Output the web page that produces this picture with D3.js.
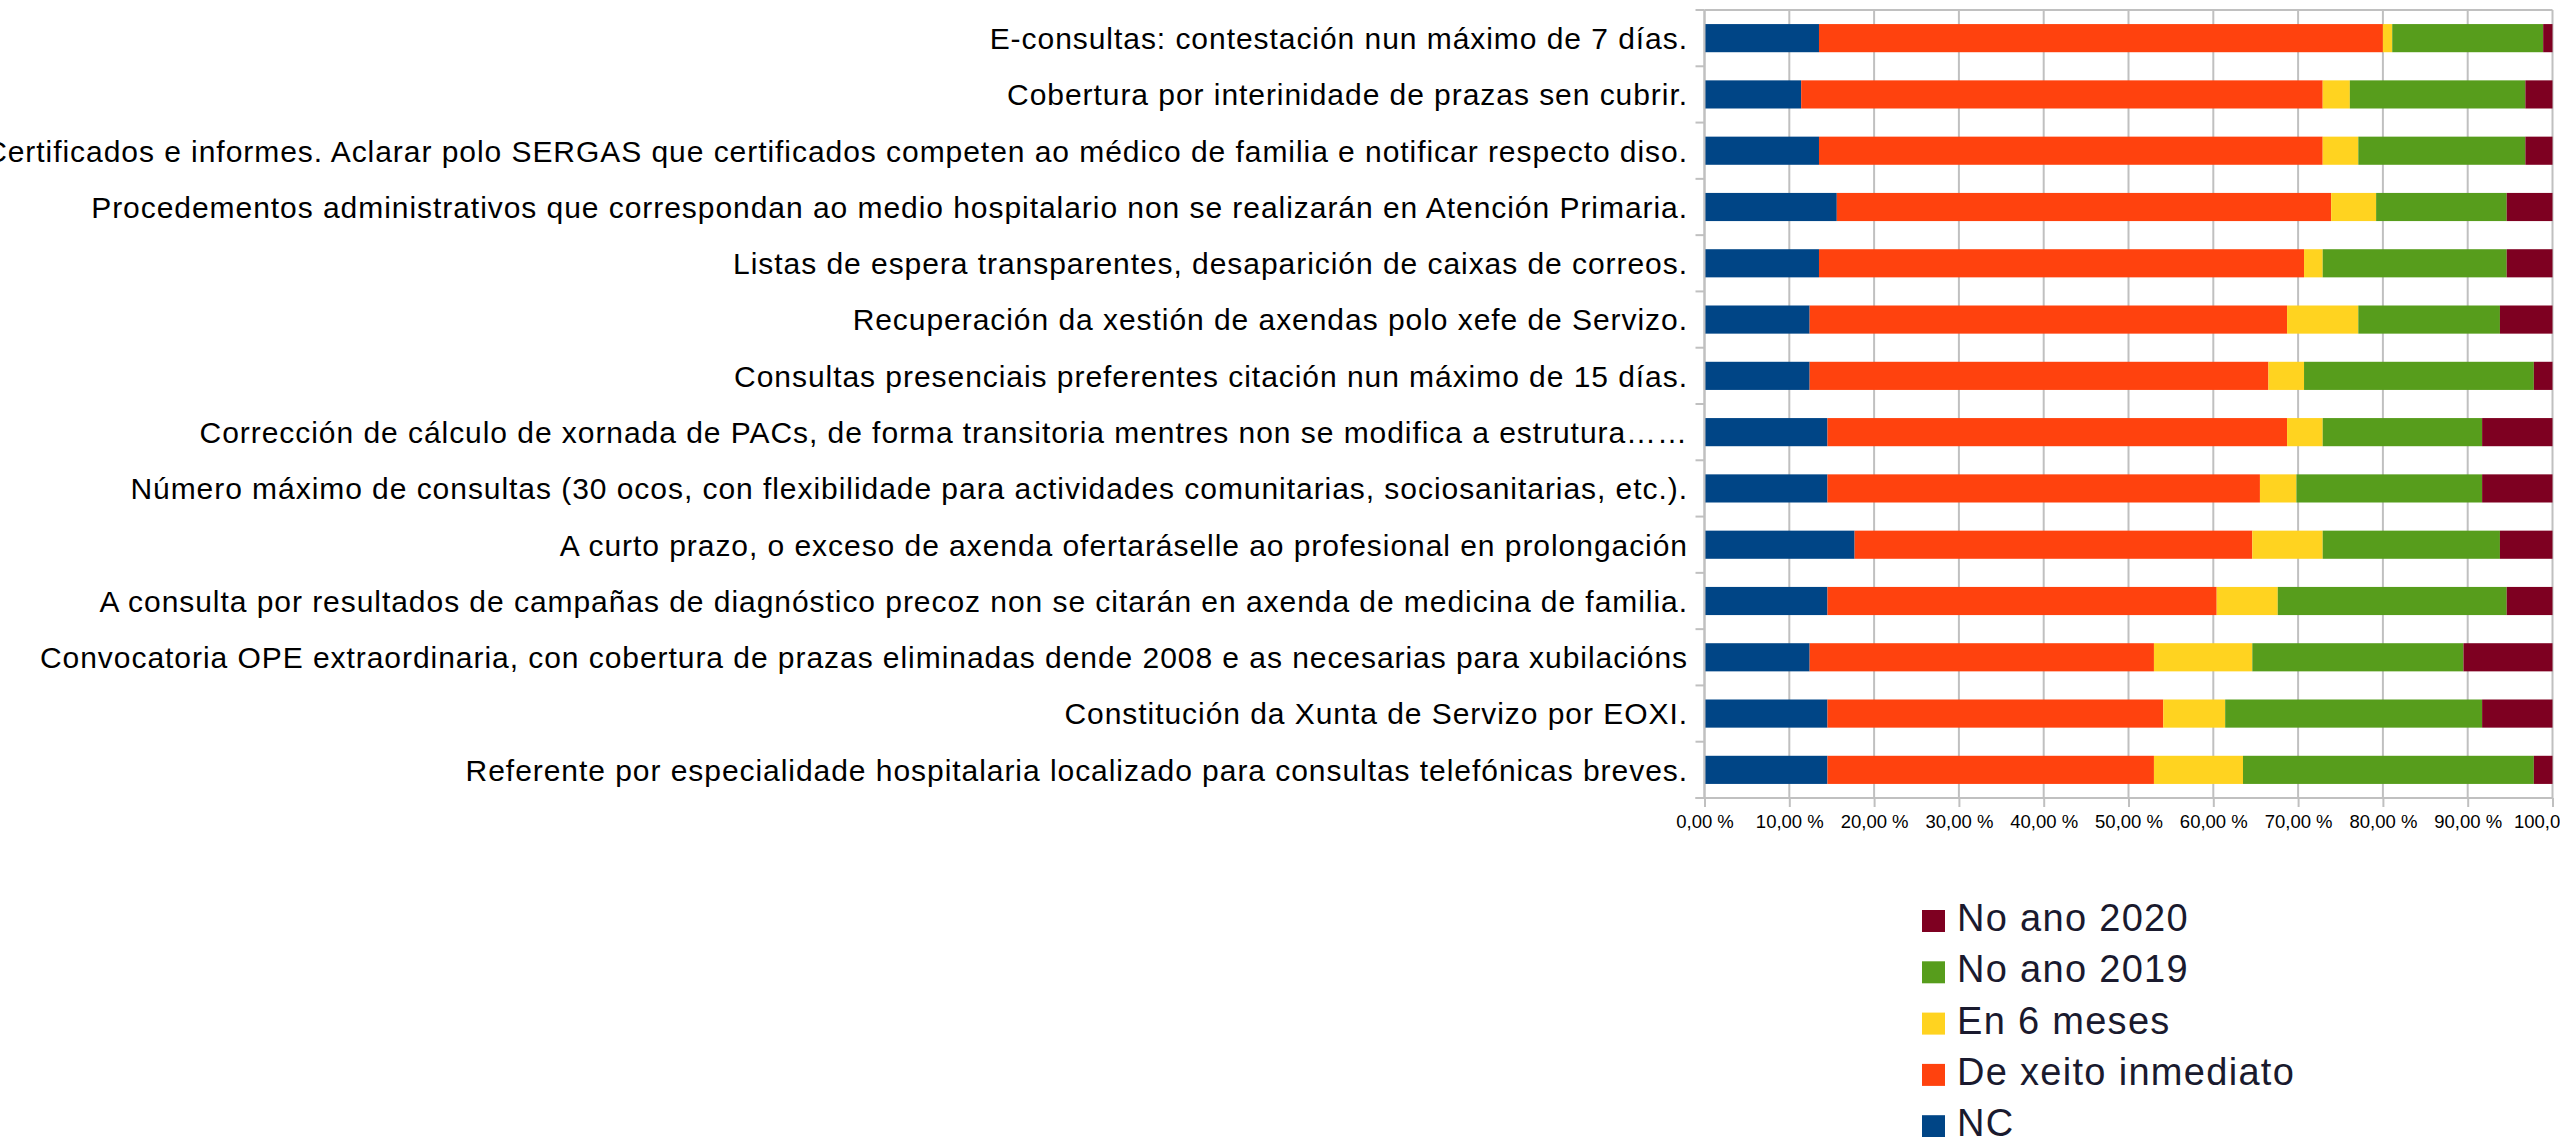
<!DOCTYPE html>
<html>
<head>
<meta charset="utf-8">
<script src="https://cdn.jsdelivr.net/npm/d3@7"></script>
<style>
  html, body { margin: 0; padding: 0; background: #fff; overflow: hidden; }
  svg { display: block; }
  text { font-family: "Liberation Sans", Arial, sans-serif; }
</style>
</head>
<body>
<script>
const categories = [
  "E-consultas: contestación nun máximo de 7 días.",
  "Cobertura por interinidade de prazas sen cubrir.",
  "Certificados e informes. Aclarar polo SERGAS que certificados competen ao médico de familia e notificar respecto diso.",
  "Procedementos administrativos que correspondan ao medio hospitalario non se realizarán en Atención Primaria.",
  "Listas de espera transparentes, desaparición de caixas de correos.",
  "Recuperación da xestión de axendas polo xefe de Servizo.",
  "Consultas presenciais preferentes citación nun máximo de 15 días.",
  "Corrección de cálculo de xornada de PACs, de forma transitoria mentres non se modifica a estrutura……",
  "Número máximo de consultas (30 ocos, con flexibilidade para actividades comunitarias, sociosanitarias, etc.).",
  "A curto prazo, o exceso de axenda ofertaráselle ao profesional en prolongación",
  "A consulta por resultados de campañas de diagnóstico precoz non se citarán en axenda de medicina de familia.",
  "Convocatoria OPE extraordinaria, con cobertura de prazas eliminadas dende 2008 e as necesarias para xubilacións",
  "Constitución da Xunta de Servizo por EOXI.",
  "Referente por especialidade hospitalaria localizado para consultas telefónicas breves."
];

const seriesNames = ["NC", "De xeito inmediato", "En 6 meses", "No ano 2019", "No ano 2020"];
const seriesColors = ["#004586", "#ff420e", "#ffd320", "#579d1c", "#7e0021"];

const valuesNC        = [13.5, 11.4, 13.5, 15.6, 13.5, 12.4, 12.4, 14.5, 14.5, 17.7, 14.5, 12.4, 14.5, 14.5];
const valuesInmediato = [66.5, 61.5, 59.4, 58.3, 57.2, 56.3, 54.1, 54.2, 51.0, 46.9, 45.9, 40.6, 39.6, 38.5];
const values6Meses    = [1.1, 3.2, 4.2, 5.3, 2.2, 8.4, 4.2, 4.2, 4.3, 8.3, 7.2, 11.6, 7.3, 10.5];
const values2019      = [17.8, 20.7, 19.7, 15.4, 21.7, 16.7, 27.1, 18.8, 21.9, 20.9, 27.0, 24.9, 30.3, 34.3];
const values2020      = [1.1, 3.2, 3.2, 5.4, 5.4, 6.2, 2.2, 8.3, 8.3, 6.2, 5.4, 10.5, 8.3, 2.2];

const xTickValues = [0, 10, 20, 30, 40, 50, 60, 70, 80, 90, 100];

const W = 2560, H = 1137;
const seriesValues = [valuesNC, valuesInmediato, values6Meses, values2019, values2020];
const rows = categories.map((c, i) => {
  const r = { cat: c };
  seriesNames.forEach((s, j) => r[s] = seriesValues[j][i]);
  return r;
});

const svg = d3.select("body").append("svg").attr("width", W).attr("height", H);

const x = d3.scaleLinear().domain([0, 100]).range([1704.5, 2552.5]);
const y = d3.scaleBand().domain(categories).range([10, 798]).paddingInner(0.5).paddingOuter(0.25);

const gridColor = "#c0c0c0";

// vertical gridlines
svg.append("g").selectAll("line").data(xTickValues).join("line")
  .attr("x1", d => x(d)).attr("x2", d => x(d))
  .attr("y1", y.range()[0]).attr("y2", y.range()[1])
  .attr("stroke", gridColor).attr("stroke-width", 2);

// category boundary ticks on left axis + top border
const step = y.step();
const boundaries = d3.range(categories.length + 1).map(i => y.range()[0] + i * step);
svg.append("g").selectAll("line").data(boundaries).join("line")
  .attr("x1", x(0) - 9).attr("x2", x(0))
  .attr("y1", d => d).attr("y2", d => d)
  .attr("stroke", gridColor).attr("stroke-width", 2);
svg.append("line")
  .attr("x1", x(0)).attr("x2", x(100))
  .attr("y1", y.range()[0]).attr("y2", y.range()[0])
  .attr("stroke", gridColor).attr("stroke-width", 2);

// bars
const stack = d3.stack().keys(seriesNames);
const stacked = stack(rows);
svg.append("g").selectAll("g").data(stacked).join("g")
  .attr("fill", (d, i) => seriesColors[i])
  .selectAll("rect").data(d => d).join("rect")
  .attr("x", d => x(d[0]))
  .attr("width", d => x(d[1]) - x(d[0]))
  .attr("y", d => y(d.data.cat))
  .attr("height", y.bandwidth());

// bottom axis
const xAxis = d3.axisBottom(x).tickValues(xTickValues)
  .tickSize(9).tickPadding(8)
  .tickFormat(d => d.toFixed(2).replace(".", ",") + " %");
const gx = svg.append("g").attr("transform", `translate(0,${y.range()[1]})`).call(xAxis);
gx.select(".domain").attr("stroke", gridColor).attr("stroke-width", 2)
  .attr("d", `M${x(0) - 9},0H${x(100)}`);
gx.selectAll(".tick line").attr("stroke", gridColor).attr("stroke-width", 2);
gx.selectAll(".tick text").attr("fill", "#000").style("font-size", "18.5px")
  .style("font-family", '"Liberation Sans", Arial, sans-serif');

// left axis line
svg.append("line")
  .attr("x1", x(0)).attr("x2", x(0))
  .attr("y1", y.range()[0]).attr("y2", y.range()[1])
  .attr("stroke", gridColor).attr("stroke-width", 2);

// category labels
svg.append("g").selectAll("text").data(categories).join("text")
  .attr("x", x(0) - 16.5)
  .attr("y", d => y(d) + y.bandwidth() / 2)
  .attr("dy", "0.36em")
  .attr("text-anchor", "end")
  .style("font-size", "30px")
  .style("letter-spacing", "0.95px")
  .attr("fill", "#000")
  .text(d => d);

// legend (reverse order)
const legendOrder = seriesNames.map((s, i) => ({ name: s, color: seriesColors[i] })).reverse();
const lg = svg.append("g").attr("transform", "translate(1922,910)");
const li = lg.selectAll("g").data(legendOrder).join("g")
  .attr("transform", (d, i) => `translate(0,${i * 51.3})`);
li.append("rect").attr("width", 23).attr("height", 22).attr("fill", d => d.color);
li.append("text").attr("x", 35).attr("y", 21)
  .style("font-size", "38px").style("letter-spacing", "1.3px").attr("fill", "#1a1a2e")
  .text(d => d.name);
</script>
</body>
</html>
